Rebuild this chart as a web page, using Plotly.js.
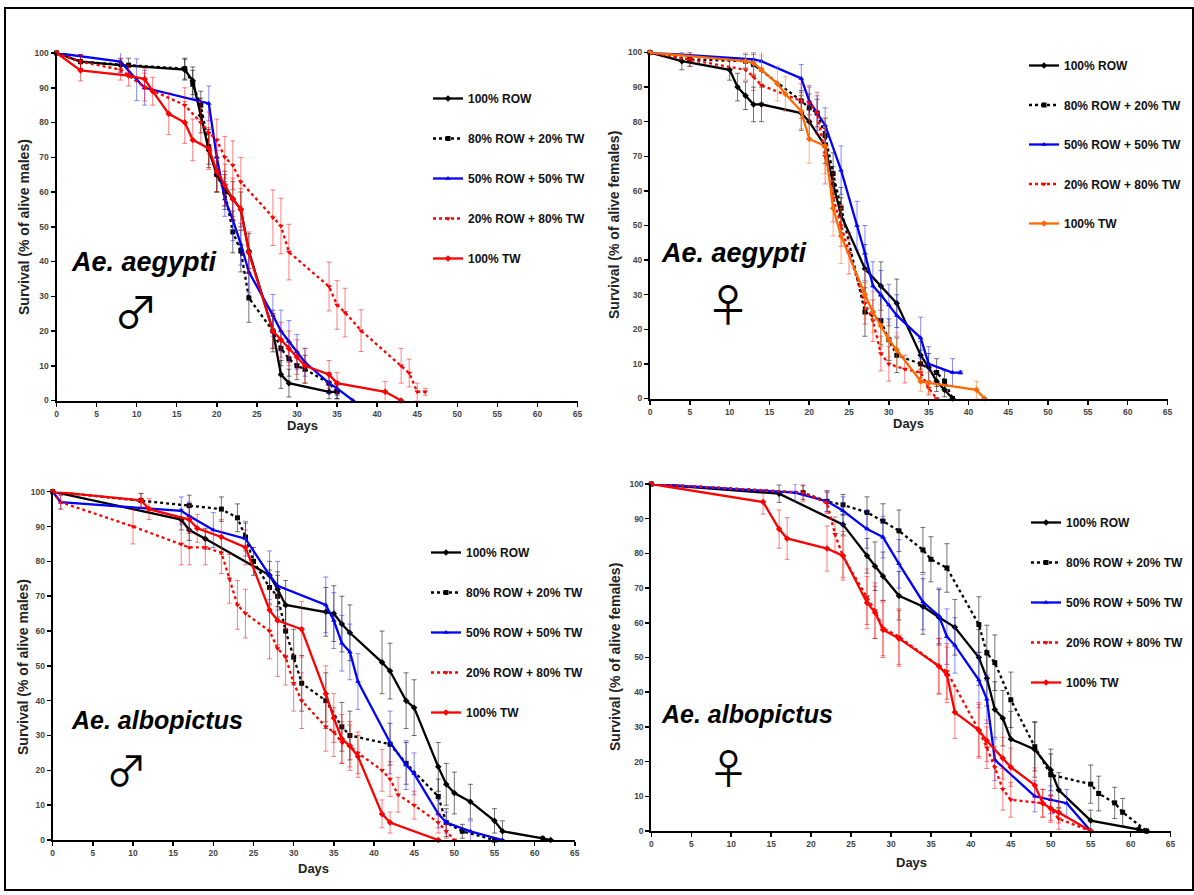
<!DOCTYPE html>
<html>
<head>
<meta charset="utf-8">
<script src="https://cdn.plot.ly/plotly-3.0.1.min.js"></script>
<style>html,body{margin:0;padding:0;background:#fff;}#chart{width:1194px;height:895px;}</style>
</head>
<body>
<div id="chart"></div>
<script>
// ---------- Series names ----------
const seriesNames = ['100% ROW', '80% ROW + 20% TW', '50% ROW + 50% TW', '20% ROW + 80% TW', '100% TW'];
const xTicks = [0,5,10,15,20,25,30,35,40,45,50,55,60,65];
const yTicks = [0,10,20,30,40,50,60,70,80,90,100];

// ---------- Panel A: Ae. aegypti males ----------
const A_ROW100_x = [0,3,8,16,17,18,19,20,21,22,23,24,27,28,29,34,35];
const A_ROW100_y = [100,97.5,96.5,95.2,92,82,72,65,61,58,55,43,20,7.5,5,2.5,2.5];
const A_ROW100_e = [0,2,2,3,4,5,5,5,5,5,5,5,5,4,4,2,2];
const A_ROW80_x = [0,3,9,16,17,18,19,20,21,22,23,24,27,28,29,30,31,34,35];
const A_ROW80_y = [100,97.5,96.5,95.5,91,85,73,65,60,48.5,43,29.5,20,15,12,10,9,5,2.5];
const A_ROW80_e = [0,2,2,3,4,4,5,5,5,6,6,7,6,5,5,4,4,3,2];
const A_ROW50_x = [0,8,10,11,19,20,21,22,23,24,27,28,29,30,31,34,35,37];
const A_ROW50_y = [100,97.5,92.3,90,85.5,70,58,52,45,37,24.5,20,17,14,11,5,3.5,0];
const A_ROW50_e = [0,3,6,5,5,5,5,6,6,6,6,6,6,5,4,3,2,0];
const A_ROW20_x = [0,3,8,11,16,18,19,20,21,22,23,27,28,29,34,35,36,38,43,44,45,46];
const A_ROW20_y = [100,97.5,95.2,90.2,85,80,77,75,70,67.7,62.9,52.6,50.2,42.7,32.8,27.5,25.3,20.1,10,7.9,2.5,2.5];
const A_ROW20_e = [0,2,3,4,5,6,6,6,6,7,7,8,8,8,7,7,7,6,5,4,2.5,1];
const A_TW_x = [0,3,9,11,12,14,16,17,19,20,21,22,23,24,27,28,29,30,31,34,35,41,43];
const A_TW_y = [100,95,93.5,92.5,89,82.5,80,75,72.5,66,62,58,55,42.5,20,17.5,15,12.5,10,7.5,5,2.5,0];
const A_TW_e = [0,3,3,3,4,6,6,6,6,6,6,6,6,6,5,5,5,5,5,4,3,3,0];

// ---------- Panel B: Ae. aegypti females ----------
const B_ROW100_x = [0,4,10,11,12,13,14,19,20,22,23,24,27,29,31,34,35,36,37,38];
const B_ROW100_y = [100,97.5,95,90,87.5,85,85,82.5,80,73,62,53,37.5,32.5,27.5,12.5,9,5,2.5,0];
const B_ROW100_e = [0,2.5,3,4,4,5,5,5,5,5,5,5,7,7,7,4,4,3,2,0];
const B_ROW80_x = [0,5,12,13,19,20,21,22,23,24,27,29,30,31,34,36,37,38];
const B_ROW80_y = [100,98,97.5,96.5,86,84,82.5,76,65,55,25,22.5,17,12.5,10,7.5,5,0];
const B_ROW80_e = [0,2,2,3,3,4,4,5,6,6,7,7,6,5,4,4,3,0];
const B_ROW50_x = [0,13,14,19,20,21,22,24,26,27,28,29,30,31,34,35,38,39];
const B_ROW50_y = [100,98,97.5,92.5,86,82.5,79,66,50,42,32.5,30,27,24,17.5,10,7.5,7.5];
const B_ROW50_e = [0,2,3,4,4,5,5,7,7,8,7,7,6,6,6,5,4,0.5];
const B_ROW20_x = [0,5,12,13,14,19,20,21,22,23,24,25,27,28,29,30,32,34,35,36];
const B_ROW20_y = [100,98,95,93,90.5,86,85.5,82.5,70,58,50,42,27.5,22.5,13,10,8.5,7.5,3,0];
const B_ROW20_e = [0,2,3,4,5,5,5,6,8,7,6,6,6,6,5,5,4,3,2,0];
const B_TW_x = [0,12,13,14,16,17,19,20,22,23,24,27,28,29,30,31,34,35,41,42];
const B_TW_y = [100,97.5,97,95,91,88,83,75,73,55,47,30,25,21,17,14,5,4.5,2.5,0];
const B_TW_e = [0,2.5,3,4,5,5,5,7,8,8,8,7,6,6,5,5,3,3,2.5,0];

// ---------- Panel C: Ae. albopictus males ----------
const C_ROW100_x = [0,16,17,19,27,28,29,34,35,36,37,41,42,44,45,48,49,50,52,55,56,61,62];
const C_ROW100_y = [100,92,89,86.5,76,72,67.5,65.5,65,62,59.5,51,48.5,40,38,21,16,13.5,11,5.5,2.5,0.5,0];
const C_ROW100_e = [0,3,3,3,4,5,7,7,8,8,8,9,8,8,8,7,6,6,5,3.5,3,0.5,0];
const C_ROW80_x = [0,11,17,21,23,24,25,27,28,29,30,31,34,36,37,42,44,48,49,51,55];
const C_ROW80_y = [100,97.5,96,95,92.5,87,80,72.5,70,60,52.5,45,40,32.5,30,27.5,22,12.5,5,2.5,0];
const C_ROW80_e = [0,2,3,3.5,4,4,4,5,6,7,8,8,8,7,7,6,6,5,4,2,0];
const C_ROW50_x = [0,1,16,17,20,24,27,28,34,35,36,37,38,42,44,45,48,49,52,56];
const C_ROW50_y = [100,97,94.5,93,89,86.5,76,73,67.5,63,56.5,54,45.5,28,21.5,19,7.5,5,2.5,0];
const C_ROW50_e = [0,2,4,4,5,5,7,7,8,8,8,8,8,9,7,6,4,3,3,0];
const C_ROW20_x = [0,1,10,16,17,19,21,22,23,24,27,28,29,30,31,34,35,36,37,38,41,42,43,45,48,49,50];
const C_ROW20_y = [100,97,90,85,84,84,82.5,75,67.5,65,60,55,52.5,45,40,32.5,31,28,27,25,20,17.5,13,10,5,2.5,0];
const C_ROW20_e = [0,2,5,6,5,5,6,7,7,7,8,8,8,8,8,7,7,6,6,6,6,5,5,4,3,2,0];
const C_TW_x = [0,11,12,17,18,21,24,27,28,31,34,35,36,37,38,41,42,48];
const C_TW_y = [100,97.5,95,92,89.5,87,84,66,63,60.5,42,35,29,27,24,7.5,5,0];
const C_TW_e = [0,2,3,4,4,5,5,6,7,8,8,7,7,7,6,4,3,0];

// ---------- Panel D: Ae. albopictus females ----------
const D_ROW100_x = [0,16,24,27,28,29,31,34,36,38,41,42,43,44,45,48,50,51,55,61,62];
const D_ROW100_y = [100,97.2,88.3,79.3,76.3,73.4,67.8,64.7,61.6,58.7,50,44,35,32.5,26.5,23.5,17.6,11.8,3,0.5,0];
const D_ROW100_e = [0,2.5,3,5,7,7,7,8,8,8,8,8,8,8,8,8,6,5,3,0.5,0];
const D_ROW80_x = [0,19,22,24,27,29,31,34,35,37,41,42,43,45,48,50,55,56,58,59,62];
const D_ROW80_y = [100,97.5,95,94,91.8,89.3,86.5,81,78.3,75.8,59.5,51.3,48.5,37.8,24.3,16.2,13.5,10.8,8.1,5.4,0];
const D_ROW80_e = [0,2,3,3,4.5,5,6,6.5,6.5,7,8,8,8,8,7,6,5.5,5,4.5,4,0];
const D_ROW50_x = [0,18,22,24,27,29,31,34,36,37,38,41,42,43,48,50,52,55];
const D_ROW50_y = [100,97.5,95,92.3,87,84.7,77,66,62,56,53.5,43.5,38,20.5,10,9,8,0];
const D_ROW50_e = [0,2.5,3,4,5.5,6,7,8,8,8,8,8,7,6,4.5,4,4,0];
const D_ROW20_x = [0,19,22,23,24,27,28,29,31,36,37,41,42,43,44,45,49,50,51,55];
const D_ROW20_y = [100,97.5,94.5,85.5,79,67.5,63.5,58.5,56,47.5,46,29,24,18.3,12,9,8,6.5,3.5,0];
const D_ROW20_e = [0,2.5,3,5,6,8,8,8,8,8,8,8,6,6,6,5,4,4,3,0];
const D_TW_x = [0,14,16,17,22,24,27,28,29,31,36,37,38,41,42,44,45,48,49,50,51,55];
const D_TW_y = [100,94.8,87,84.3,81.4,79.3,65.8,63,58,55.5,47.5,45,34.2,29,26,21,18.4,13.2,8,6.5,5.3,0];
const D_TW_e = [0,3.5,5.5,6,6.5,7,7.5,7.5,8,8,8,8,7.5,7.5,6,6,5.5,5,4,3.5,3,0];

// ---------- Styles ----------
const styles = [
  {color:'#000000', err:'rgba(0,0,0,0.55)', dash:'solid', symbol:'diamond'},
  {color:'#000000', err:'rgba(0,0,0,0.55)', dash:'dot', symbol:'square'},
  {color:'#0000ff', err:'rgba(40,40,255,0.55)', dash:'solid', symbol:'triangle-up'},
  {color:'#ff0000', err:'rgba(255,0,0,0.5)', dash:'dot', symbol:'triangle-down'},
  {color:'#ff0000', err:'rgba(255,0,0,0.5)', dash:'solid', symbol:'diamond'}
];
const stylesB = styles.slice();
stylesB[4] = {color:'#ff6a00', err:'rgba(255,120,20,0.55)', dash:'solid', symbol:'diamond'};

const panels = [
  {xa:'x', ya:'y', leg:'legend', st:styles, data:[[A_ROW100_x,A_ROW100_y,A_ROW100_e],[A_ROW80_x,A_ROW80_y,A_ROW80_e],[A_ROW50_x,A_ROW50_y,A_ROW50_e],[A_ROW20_x,A_ROW20_y,A_ROW20_e],[A_TW_x,A_TW_y,A_TW_e]]},
  {xa:'x2', ya:'y2', leg:'legend2', st:stylesB, data:[[B_ROW100_x,B_ROW100_y,B_ROW100_e],[B_ROW80_x,B_ROW80_y,B_ROW80_e],[B_ROW50_x,B_ROW50_y,B_ROW50_e],[B_ROW20_x,B_ROW20_y,B_ROW20_e],[B_TW_x,B_TW_y,B_TW_e]]},
  {xa:'x3', ya:'y3', leg:'legend3', st:styles, data:[[C_ROW100_x,C_ROW100_y,C_ROW100_e],[C_ROW80_x,C_ROW80_y,C_ROW80_e],[C_ROW50_x,C_ROW50_y,C_ROW50_e],[C_ROW20_x,C_ROW20_y,C_ROW20_e],[C_TW_x,C_TW_y,C_TW_e]]},
  {xa:'x4', ya:'y4', leg:'legend4', st:styles, data:[[D_ROW100_x,D_ROW100_y,D_ROW100_e],[D_ROW80_x,D_ROW80_y,D_ROW80_e],[D_ROW50_x,D_ROW50_y,D_ROW50_e],[D_ROW20_x,D_ROW20_y,D_ROW20_e],[D_TW_x,D_TW_y,D_TW_e]]}
];

const traces = [];
panels.forEach((p, pi) => {
  p.data.forEach((d, si) => {
    const s = p.st[si];
    traces.push({
      type:'scatter', mode:'lines+markers',
      x:d[0], y:d[1],
      xaxis:p.xa, yaxis:p.ya,
      name:seriesNames[si], legend:p.leg, legendgroup:'g'+pi+'_'+si,
      line:{color:s.color, width:2.3, dash:s.dash},
      marker:{color:s.color, symbol:s.symbol, size:5},
      error_y:{type:'data', array:d[2], visible:true, color:s.err, thickness:1, width:2.5},
      cliponaxis:false, hoverinfo:'x+y'
    });
  });
});

const W = 1194, H = 895;
const px = v => v / W;
const py = v => 1 - v / H;

function axisX(d0, d1, anchor) {
  return {domain:[px(d0), px(d1)], range:[0,65], tickvals:xTicks, ticks:'outside', ticklen:4, tickwidth:1.5,
    tickcolor:'#000', showline:true, linewidth:2, linecolor:'#000', showgrid:false, zeroline:false,
    tickfont:{family:'Liberation Sans, Arial, sans-serif', size:8.5, color:'#444', weight:'bold'}, anchor:anchor, fixedrange:true};
}
function axisY(d0, d1, anchor) {
  return {domain:[py(d1), py(d0)], range:[0,100], tickvals:yTicks, ticks:'outside', ticklen:4, tickwidth:1.5,
    tickcolor:'#000', showline:true, linewidth:2, linecolor:'#000', showgrid:false, zeroline:false,
    tickfont:{family:'Liberation Sans, Arial, sans-serif', size:8.5, color:'#444', weight:'bold'}, anchor:anchor, fixedrange:true};
}

function legendAt(xPix, yPix, gap) {
  return {x:px(xPix), y:py(yPix), xanchor:'left', yanchor:'top', bgcolor:'rgba(0,0,0,0)',
    traceorder:'grouped', tracegroupgap:gap, itemwidth:30,
    font:{family:'Liberation Sans, Arial, sans-serif', size:12, color:'#111', weight:'bold'}};
}

const labFont = {family:'Liberation Sans, Arial, sans-serif', size:14, color:'#222', weight:'bold'};
const daysFont = {family:'Liberation Sans, Arial, sans-serif', size:13, color:'#222', weight:'bold'};
const spFont = {family:'Liberation Sans, Arial, sans-serif', size:27, color:'#000', weight:'bold', style:'italic'};
const spFont2 = {family:'Liberation Sans, Arial, sans-serif', size:25, color:'#000', weight:'bold', style:'italic'};
const sexFont = {family:'Noto Sans CJK JP, DejaVu Sans, sans-serif', size:44, color:'#000'};
const sexFont2 = {family:'Noto Sans CJK JP, DejaVu Sans, sans-serif', size:41, color:'#000'};

function ann(x, y, text, font, extra) {
  return Object.assign({xref:'paper', yref:'paper', x:px(x), y:py(y), text:text, showarrow:false, font:font,
    xanchor:'center', yanchor:'middle'}, extra || {});
}

const annotations = [
  ann(24, 227, 'Survival (% of alive males)', labFont, {textangle:-90}),
  ann(614, 225, 'Survival (% of alive females)', labFont, {textangle:-90}),
  ann(23, 667, 'Survival (% of alive males)', labFont, {textangle:-90}),
  ann(615, 657, 'Survival (% of alive females)', labFont, {textangle:-90}),
  ann(302, 425, 'Days', daysFont),
  ann(908, 423, 'Days', daysFont),
  ann(313, 868, 'Days', daysFont),
  ann(911, 862, 'Days', daysFont),
  ann(69, 262, 'Ae. aegypti', spFont, {xanchor:'left'}),
  ann(659, 253, 'Ae. aegypti', spFont, {xanchor:'left'}),
  ann(69, 720, 'Ae. albopictus', spFont2, {xanchor:'left'}),
  ann(659, 714, 'Ae. albopictus', spFont2, {xanchor:'left'}),
  ann(136, 310, '♂', sexFont),
  ann(728, 303, '♀', sexFont),
  ann(127, 768, '♂', sexFont2),
  ann(728, 766, '♀', sexFont2)
];

const layout = {
  width:W, height:H,
  margin:{l:0, r:0, t:0, b:0},
  paper_bgcolor:'#fff', plot_bgcolor:'rgba(0,0,0,0)',
  showlegend:true,
  xaxis:axisX(56.5, 577.5, 'y'), yaxis:axisY(53, 400.5, 'x'),
  xaxis2:axisX(650, 1167.5, 'y2'), yaxis2:axisY(52.5, 398.5, 'x2'),
  xaxis3:axisX(52.7, 574.8, 'y3'), yaxis3:axisY(491.7, 840, 'x3'),
  xaxis4:axisX(651.3, 1170.6, 'y4'), yaxis4:axisY(484, 831, 'x4'),
  legend:legendAt(428, 84, 21),
  legend2:legendAt(1024, 51, 20.5),
  legend3:legendAt(426, 538, 21),
  legend4:legendAt(1026, 508, 21),
  annotations:annotations,
  shapes:[{type:'rect', xref:'paper', yref:'paper', x0:px(5), x1:px(1193), y0:py(890), y1:py(8),
    line:{color:'#000', width:2}, fillcolor:'rgba(0,0,0,0)', layer:'below'}]
};

Plotly.newPlot('chart', traces, layout, {displayModeBar:false, staticPlot:true});
</script>
</body>
</html>
